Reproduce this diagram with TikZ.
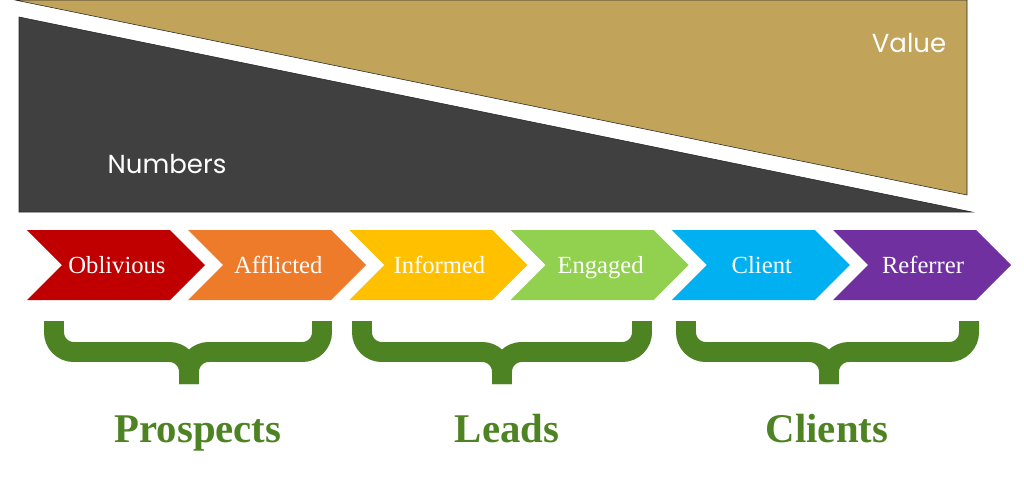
\documentclass[tikz,border=0pt]{standalone}
\usepackage{fontspec}
\setmainfont{Liberation Serif}
\newfontfamily\poppins{Poppins}
\usetikzlibrary{positioning}

\definecolor{valuegold}{RGB}{193,163,90}
\definecolor{numbergrey}{RGB}{64,64,64}
\definecolor{edgegrey}{RGB}{40,40,40}
\definecolor{bracegreen}{RGB}{78,131,35}
\definecolor{stagered}{RGB}{192,0,0}
\definecolor{stageorange}{RGB}{238,123,42}
\definecolor{stageyellow}{RGB}{255,192,0}
\definecolor{stagelime}{RGB}{146,208,80}
\definecolor{stageblue}{RGB}{0,176,240}
\definecolor{stagepurple}{RGB}{112,48,160}

\begin{document}
\begin{tikzpicture}[x=0.025cm, y=-0.025cm,
    wedgelabel/.style={text=white, font=\poppins\fontsize{18.5}{22}\selectfont},
    stagelabel/.style={text=white, font=\fontsize{17.5}{20}\selectfont},
    groupbrace/.style={draw=bracegreen, line width=14.2pt, rounded corners=14pt},
    grouplabel/.style={text=bracegreen, font=\bfseries\fontsize{29}{34}\selectfont}]
        % ==== DEFINITIONS ====
        \def\chevw{143}   % straight part of a chevron
        \def\chevtip{35}  % depth of tip and notch
        \def\bracetop{321}
        \def\braceband{352}
        \def\bracebot{384}

        \useasboundingbox (0,0) rectangle (1024,483);

        % ==== VALUE WEDGE ====
        \filldraw[fill=valuegold, draw=edgegrey, thin] (15,0) -- (967,0) -- (967,195) -- cycle;
        \node[wedgelabel, anchor=base] (value) at (909,52) {Value};

        % ==== NUMBERS WEDGE ====
        \filldraw[fill=numbergrey, draw=edgegrey, thin] (19,17) -- (972,212) -- (19,212) -- cycle;
        \node[wedgelabel, anchor=base] (numbers) at (167,173) {Numbers};

        % ==== STAGES ====
        \foreach \i/\name/\col/\txt in {0/oblivious/stagered/Oblivious,
                1/afflicted/stageorange/Afflicted, 2/informed/stageyellow/Informed,
                3/engaged/stagelime/Engaged, 4/client/stageblue/Client,
                5/referrer/stagepurple/Referrer}{
            \pgfmathsetmacro\l{27+161.2*\i}
            \fill[\col] (\l,230) -- ++(\chevw,0) -- ++(\chevtip,35) -- ++(-\chevtip,35)
                -- ++(-\chevw,0) -- ++(\chevtip,-35) -- cycle;
            \node[stagelabel, anchor=base] (\name) at (\l+90,273) {\txt};
        }

        % ==== BRACES ====
        \foreach \bl/\bc/\br in {54/189/322, 362/502/642, 686/829/969}{
            \draw[groupbrace] (\bl,\bracetop) |- (\bc,\braceband) -- (\bc,\bracebot);
            \draw[groupbrace] (\br,\bracetop) |- (\bc,\braceband) -- (\bc,\bracebot);
        }

        % ==== GROUP LABELS ====
        \node[grouplabel, anchor=base] (prospects) at (198,442) {Prospects};
        \node[grouplabel, anchor=base] (leads) at (507,442) {Leads};
        \node[grouplabel, anchor=base] (clients) at (827,442) {Clients};
    \end{tikzpicture}
\end{document}
